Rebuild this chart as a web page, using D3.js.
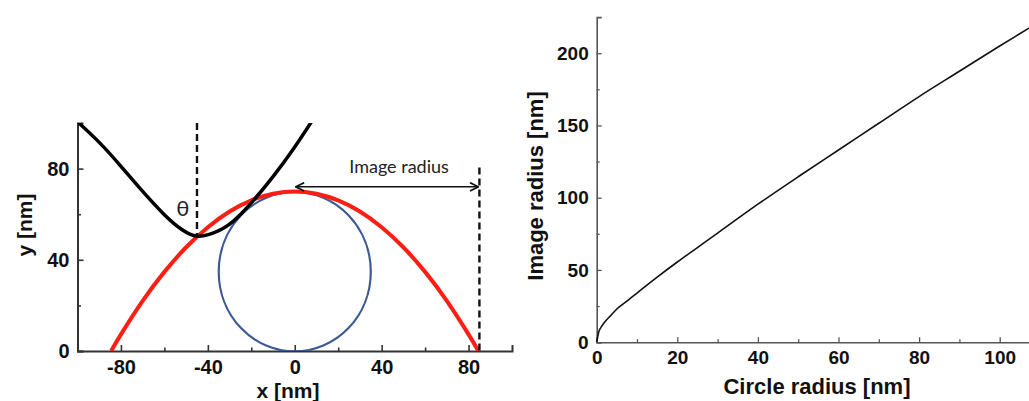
<!DOCTYPE html>
<html>
<head>
<meta charset="utf-8">
<script src="https://cdn.jsdelivr.net/npm/d3@7"></script>
<style>
  body { margin: 0; background: #fff; }
  svg { display: block; }
</style>
</head>
<body>
<div id="chart"></div>
<script>
"use strict"

// left panel: tip / image geometry
const redX   = [-84.5, -80, -70, -60, -50, -40, -30, -20, -10, 0, 10, 20, 30, 40, 50, 60, 70, 80, 84.5]
const redY   = [0, 7.3, 22, 34.7, 45.5, 54.3, 61.2, 66.1, 69, 70, 69, 66.1, 61.2, 54.3, 45.5, 34.7, 22, 7.3, 0]
const blackX = [-102, -100, -90, -80, -70, -60, -52, -45, -38, -30, -20, -10, 0, 8, 10]
const blackY = [102.3, 100.5, 91.5, 81, 70, 59.8, 53.3, 50.4, 51.6, 55.6, 65, 76.5, 89.5, 101, 104]
const circle = { cx: 0, cy: 34.8, r: 35 }
const tipX = -45, tipY = 50.4
const imageRadius = 85
const arrowY = 72
const leftXTicks = [-80, -40, 0, 40, 80]
const leftXMinor = [-60, -20, 20, 60]
const leftYTicks = [0, 40, 80]
const leftYMinor = [20, 60]

// right panel: image radius vs circle radius
const circleRadius = [0, 0.5, 1, 2, 3.5, 5, 7.5, 10, 15, 20, 25, 30, 40, 50, 60, 70, 80, 90, 100, 110]
const imageRadiusVals = [0, 7, 10, 14, 18.5, 23, 28.5, 34, 45, 55.5, 65.5, 75.5, 95.5, 114.5, 133, 151.5, 170, 187.5, 205, 222]
const rightXTicks = [0, 20, 40, 60, 80, 100]
const rightXMinor = [10, 30, 50, 70, 90]
const rightYTicks = [0, 50, 100, 150, 200]
const rightYMinor = [25, 75, 125, 175]

const W = 1029, H = 401

const svg = d3.select("#chart").append("svg")
  .attr("width", W)
  .attr("height", H)

svg.append("rect").attr("width", W).attr("height", H).attr("fill", "#fff")

const defs = svg.append("defs")
defs.append("clipPath").attr("id", "leftClip")
  .append("rect").attr("x", 77.5).attr("y", 123).attr("width", 435).attr("height", 228)

;["arrowStart", "arrowEnd"].forEach((id, i) => {
  defs.append("marker")
    .attr("id", id)
    .attr("viewBox", "0 0 10 10")
    .attr("refX", i == 0 ? 1 : 9)
    .attr("refY", 5)
    .attr("markerWidth", 7)
    .attr("markerHeight", 7)
    .attr("orient", "auto")
    .append("path")
      .attr("d", i == 0 ? "M9,1 L1,5 L9,9" : "M1,1 L9,5 L1,9")
      .attr("fill", "none")
      .attr("stroke", "#111")
      .attr("stroke-width", 1.6)
})

// ---------- left panel ----------
const lx = d3.scaleLinear().domain([-100, 100]).range([77.5, 512])
const ly = d3.scaleLinear().domain([0, 100]).range([351, 123])
const left = svg.append("g")
const leftFont = "'Liberation Sans', Arial, sans-serif"

function styleAxis(g, color, width) {
  g.select(".domain").attr("stroke", color).attr("stroke-width", width)
  g.selectAll(".tick line").attr("stroke", color).attr("stroke-width", width * 0.8)
}

let gx = left.append("g").attr("transform", `translate(0,${ly(0)})`)
  .call(d3.axisBottom(lx).tickValues(leftXTicks).tickSize(-6).tickPadding(9).tickFormat(d3.format("d")))
styleAxis(gx, "#333", 2)
gx.selectAll("text").attr("font-family", leftFont).attr("font-weight", "bold").attr("font-size", 20).attr("fill", "#111")
  .text(d => d < 0 ? "-" + Math.abs(d) : d)
let gxm = left.append("g").attr("transform", `translate(0,${ly(0)})`)
  .call(d3.axisBottom(lx).tickValues(leftXMinor).tickSize(-3.5).tickFormat(""))
styleAxis(gxm, "#333", 2)
gxm.select(".domain").remove()

let gy = left.append("g").attr("transform", `translate(${lx(-100)},0)`)
  .call(d3.axisLeft(ly).tickValues(leftYTicks).tickSize(-6).tickPadding(8))
styleAxis(gy, "#333", 2)
gy.selectAll("text").attr("font-family", leftFont).attr("font-weight", "bold").attr("font-size", 20).attr("fill", "#111")
let gym = left.append("g").attr("transform", `translate(${lx(-100)},0)`)
  .call(d3.axisLeft(ly).tickValues(leftYMinor).tickSize(-3.5).tickFormat(""))
styleAxis(gym, "#333", 2)
gym.select(".domain").remove()

left.append("text")
  .attr("x", 288).attr("y", 398)
  .attr("text-anchor", "middle")
  .attr("font-family", leftFont).attr("font-weight", "bold").attr("font-size", 21)
  .attr("fill", "#111")
  .text("x [nm]")

left.append("text")
  .attr("transform", "translate(32,225) rotate(-90)")
  .attr("text-anchor", "middle")
  .attr("font-family", leftFont).attr("font-weight", "bold").attr("font-size", 21)
  .attr("fill", "#111")
  .text("y [nm]")

const plot = left.append("g").attr("clip-path", "url(#leftClip)")

// circle (object being imaged)
plot.append("ellipse")
  .attr("cx", lx(circle.cx))
  .attr("cy", ly(circle.cy))
  .attr("rx", lx(circle.r) - lx(0))
  .attr("ry", ly(0) - ly(circle.r))
  .attr("fill", "none")
  .attr("stroke", "#3c5a96")
  .attr("stroke-width", 2.2)

const line = d3.line().x(d => lx(d[0])).y(d => ly(d[1])).curve(d3.curveNatural)

plot.append("path")
  .datum(redX.map((x, i) => [x, redY[i]]))
  .attr("d", line)
  .attr("fill", "none")
  .attr("stroke", "#ff1e14")
  .attr("stroke-width", 4)

plot.append("path")
  .datum(blackX.map((x, i) => [x, blackY[i]]))
  .attr("d", line)
  .attr("fill", "none")
  .attr("stroke", "#000")
  .attr("stroke-width", 3.5)

// dashed guides
left.append("line")
  .attr("x1", lx(tipX)).attr("x2", lx(tipX))
  .attr("y1", ly(100)).attr("y2", ly(tipY))
  .attr("stroke", "#111").attr("stroke-width", 2.4).attr("stroke-dasharray", "7,4")

left.append("line")
  .attr("x1", lx(imageRadius)).attr("x2", lx(imageRadius))
  .attr("y1", ly(80.5)).attr("y2", ly(0))
  .attr("stroke", "#111").attr("stroke-width", 2.4).attr("stroke-dasharray", "7,4")

left.append("line")
  .attr("x1", lx(0) + 1).attr("x2", lx(imageRadius) - 1)
  .attr("y1", ly(arrowY)).attr("y2", ly(arrowY))
  .attr("stroke", "#111").attr("stroke-width", 1.5)
  .attr("marker-start", "url(#arrowStart)")
  .attr("marker-end", "url(#arrowEnd)")

left.append("text")
  .attr("x", lx(48)).attr("y", ly(78.2))
  .attr("text-anchor", "middle")
  .attr("font-family", "Lato, 'Open Sans', sans-serif").attr("font-size", 18)
  .attr("fill", "#222")
  .text("Image radius")

left.append("text")
  .attr("x", lx(-51.5)).attr("y", ly(59))
  .attr("text-anchor", "middle")
  .attr("font-family", "Lato, 'Open Sans', sans-serif").attr("font-size", 22)
  .attr("fill", "#222")
  .text("θ")

// ---------- right panel ----------
const rx = d3.scaleLinear().domain([0, 110]).range([596.7, 596.7 + 110 * 4.03])
const ry = d3.scaleLinear().domain([0, 225]).range([342.2, 342.2 - 225 * 1.445])
const right = svg.append("g")
const rightFont = "'Liberation Sans', Arial, sans-serif"

let rgx = right.append("g").attr("transform", `translate(0,${ry(0)})`)
  .call(d3.axisBottom(rx).tickValues(rightXTicks).tickSize(-5).tickPadding(8))
styleAxis(rgx, "#555", 1.6)
rgx.selectAll("text").attr("font-family", rightFont).attr("font-weight", "bold").attr("font-size", 19).attr("fill", "#111")
let rgxm = right.append("g").attr("transform", `translate(0,${ry(0)})`)
  .call(d3.axisBottom(rx).tickValues(rightXMinor).tickSize(-3).tickFormat(""))
styleAxis(rgxm, "#555", 1.6)
rgxm.select(".domain").remove()

let rgy = right.append("g").attr("transform", `translate(${rx(0)},0)`)
  .call(d3.axisLeft(ry).tickValues(rightYTicks).tickSize(-5).tickPadding(8))
styleAxis(rgy, "#555", 1.6)
rgy.selectAll("text").attr("font-family", rightFont).attr("font-weight", "bold").attr("font-size", 19).attr("fill", "#111")
let rgym = right.append("g").attr("transform", `translate(${rx(0)},0)`)
  .call(d3.axisLeft(ry).tickValues(rightYMinor).tickSize(-3).tickFormat(""))
styleAxis(rgym, "#555", 1.6)
rgym.select(".domain").remove()

right.append("path")
  .datum(circleRadius.map((x, i) => [x, imageRadiusVals[i]]))
  .attr("d", d3.line().x(d => rx(d[0])).y(d => ry(d[1])).curve(d3.curveMonotoneX))
  .attr("fill", "none")
  .attr("stroke", "#111")
  .attr("stroke-width", 1.6)

right.append("text")
  .attr("x", 817).attr("y", 394)
  .attr("text-anchor", "middle")
  .attr("font-family", rightFont).attr("font-weight", "bold").attr("font-size", 22)
  .attr("fill", "#111")
  .text("Circle radius [nm]")

right.append("text")
  .attr("transform", "translate(543,186) rotate(-90)")
  .attr("text-anchor", "middle")
  .attr("font-family", rightFont).attr("font-weight", "bold").attr("font-size", 22)
  .attr("fill", "#111")
  .text("Image radius [nm]")
</script>
</body>
</html>
